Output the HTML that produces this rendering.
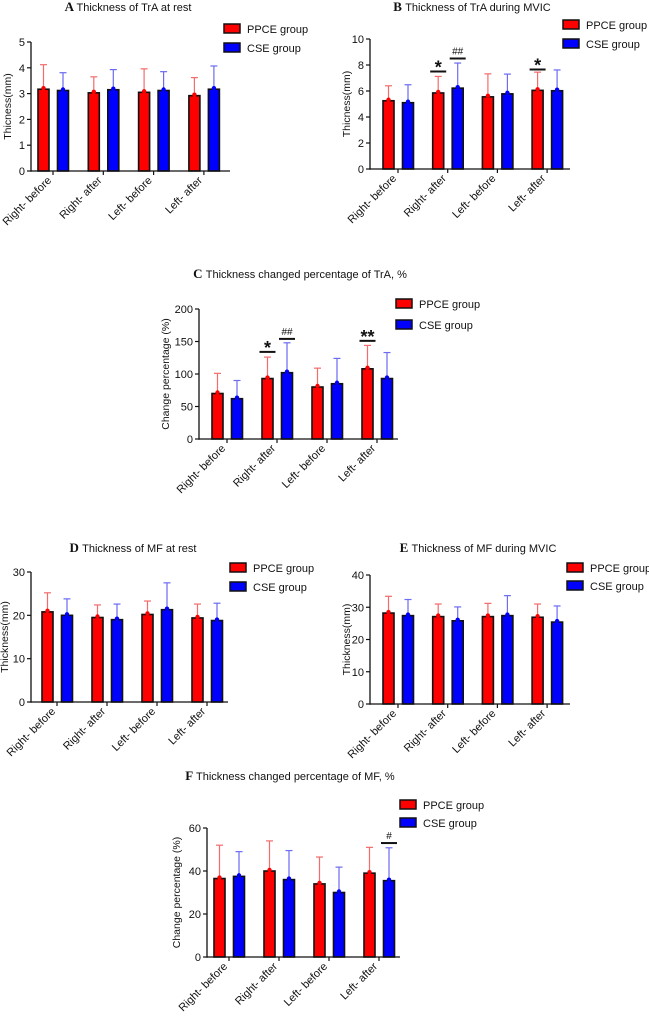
<!DOCTYPE html>
<html><head><meta charset="utf-8"><style>
body{margin:0;background:#fff;}
svg{display:block;font-family:"Liberation Sans",sans-serif;}
</style></head><body>
<svg id="fig" width="649" height="1017" viewBox="0 0 649 1017"></svg>
<script>
const categories=["Right- before","Right- after","Left- before","Left- after"];
const aRed=[3.17,3.03,3.05,2.92], aRedErr=[4.12,3.65,3.96,3.62], aBlue=[3.12,3.15,3.12,3.17], aBlueErr=[3.81,3.93,3.85,4.07];
const aTicks=[0,1,2,3,4,5];
const bRed=[5.25,5.85,5.55,6.05], bRedErr=[6.4,7.12,7.32,7.45], bBlue=[5.1,6.22,5.78,6.02], bBlueErr=[6.48,8.15,7.3,7.62];
const bTicks=[0,2,4,6,8,10];
const cRed=[70,93,80,108], cRedErr=[101,126,109,144], cBlue=[62,102,85,93], cBlueErr=[90,148,124,133];
const cTicks=[0,50,100,150,200];
const dRed=[20.8,19.5,20.2,19.4], dRedErr=[25.2,22.4,23.3,22.6], dBlue=[20,19,21.3,18.8], dBlueErr=[23.8,22.6,27.5,22.8];
const dTicks=[0,10,20,30];
const eRed=[28.2,27.1,27.1,26.9], eRedErr=[33.4,31,31.2,31], eBlue=[27.4,25.8,27.4,25.4], eBlueErr=[32.4,30.1,33.6,30.4];
const eTicks=[0,10,20,30,40];
const fRed=[36.5,40,34,39], fRedErr=[52,54,46.5,51], fBlue=[37.5,36,30,35.5], fBlueErr=[49,49.5,41.8,50.8];
const fTicks=[0,20,40,60];
const bSig=[[1,'r',7.5,'*'],[1,'b',8.5,'##'],[3,'r',7.65,'*']];
const cSig=[[1,'r',134,'*'],[1,'b',154,'##'],[3,'r',151,'**']];
const fSig=[[3,'b',53,'#']];

const NS="http://www.w3.org/2000/svg";
const svg=document.getElementById('fig');
function mk(tag,attrs,parent,text){const e=document.createElementNS(NS,tag);for(const k in attrs)e.setAttribute(k,attrs[k]);if(text!==undefined)e.textContent=text;(parent||svg).appendChild(e);return e;}

function panel(p){
  const g=mk('g',{});
  
  
  const yMax=p.ticks[p.ticks.length-1];
  const ys=v=>p.y0-(v/yMax)*(p.y0-p.yTop);
  const xs=i=>p.x0tick+i*p.step;
  const t=mk('text',{x:p.tx,y:p.ty,'font-size':11,'text-anchor':'middle',fill:'#111'},g);
  
  mk('tspan',{'font-family':'Liberation Serif, serif','font-weight':'bold','font-size':13},t,p.letter+' ');
  mk('tspan',{},t,p.title);
  const series=[[p.red,p.redErr,'#ff0000','#f36b6b',-9.5,'r'],[p.blue,p.blueErr,'#0000ff','#6b6bf3',10,'b']];
  series.forEach(([vals,errs,col,ecol,off,key])=>{
    vals.forEach((v,i)=>{
      const cx=xs(i)+off;
      const el=mk('line',{x1:cx,x2:cx,y1:ys(v),y2:ys(errs[i]),stroke:ecol,'stroke-width':1.2},g);
      
      const cap=mk('line',{x1:cx-3.5,x2:cx+3.5,y1:ys(errs[i]),y2:ys(errs[i]),stroke:ecol,'stroke-width':1.2},g);
      
      const r=mk('rect',{x:cx-5.5,y:ys(v),width:11,height:p.y0-ys(v),fill:col,stroke:'#111','stroke-width':1.6},g);
      
      const d=mk('circle',{cx:cx,cy:ys(v)-1,r:2.2,fill:col},g);
      
    });
  });
  const ya=mk('line',{x1:p.x0,x2:p.x0,y1:p.yTop,y2:p.y0+0.8,stroke:'#111','stroke-width':1.3},g);
  
  const xa=mk('line',{x1:p.x0,x2:p.xEnd,y1:p.y0,y2:p.y0,stroke:'#111','stroke-width':1.3},g);
  
  p.ticks.forEach(v=>{
    mk('line',{x1:p.x0-4,x2:p.x0,y1:ys(v),y2:ys(v),stroke:'#111','stroke-width':1.2},g);
    const tl=mk('text',{x:p.x0-6,y:ys(v)+4,'font-size':11,'text-anchor':'end',fill:'#111'},g,v);
    
  });
  categories.forEach((c,i)=>{
    mk('line',{x1:xs(i),x2:xs(i),y1:p.y0,y2:p.y0+4,stroke:'#111','stroke-width':1.2},g);
    const x=xs(i)-1,y=p.y0+10;
    const tl=mk('text',{x:x,y:y,'font-size':11,'text-anchor':'end',fill:'#111',transform:`rotate(-45 ${x} ${y})`},g,c);
    
  });
  const yt=mk('text',{x:0,y:0,'font-size':10.5,'text-anchor':'middle',fill:'#111',transform:`translate(${p.ytx} ${(p.y0+p.yTop)/2}) rotate(-90)`},g,p.ytitle);
  
  [['PPCE group','#ff0000',p.ly1],['CSE group','#0000ff',p.ly2]].forEach(([n,col,ly])=>{
    const r=mk('rect',{x:p.lx,y:ly,width:16,height:9,fill:col,stroke:'#111','stroke-width':1.5},g);
    
    const lt=mk('text',{x:p.lx+23,y:ly+9,'font-size':11,fill:'#111'},g,n);
    
  });
  (p.sig||[]).forEach(([i,k,v,lab])=>{
    const cx=xs(i)+(k==='r'?-9.5:10);
    const sl=mk('line',{x1:cx-8,x2:cx+8,y1:ys(v),y2:ys(v),stroke:'#111','stroke-width':2},g);
    
    const big=lab.indexOf('*')>=0;
    const st=mk('text',{x:cx,y:ys(v)-(big?-2:4),'font-size':big?18:10,'font-weight':big?'bold':'normal','text-anchor':'middle',fill:'#111'},g,lab);
    
  });
}
panel({name:'panel-a',letter:'A',title:'Thickness of TrA at rest',tx:128,ty:11,x0:31,yTop:42,y0:171,xEnd:230,x0tick:53,step:50.3,ticks:aTicks,red:aRed,redErr:aRedErr,blue:aBlue,blueErr:aBlueErr,ytitle:'Thicness(mm)',ytx:11,lx:224,ly1:24,ly2:43});
panel({name:'panel-b',letter:'B',title:'Thickness of TrA during MVIC',tx:472,ty:11,x0:370,yTop:39,y0:169,xEnd:570,x0tick:398,step:49.7,ticks:bTicks,red:bRed,redErr:bRedErr,blue:bBlue,blueErr:bBlueErr,ytitle:'Thicness(mm)',ytx:350,lx:563,ly1:20,ly2:39,sig:bSig});
panel({name:'panel-c',letter:'C',title:'Thickness changed percentage of TrA, %',tx:300,ty:278,x0:199,yTop:309,y0:439,xEnd:398,x0tick:227,step:50,ticks:cTicks,red:cRed,redErr:cRedErr,blue:cBlue,blueErr:cBlueErr,ytitle:'Change percentage (%)',ytx:169,lx:396,ly1:299,ly2:320,sig:cSig});
panel({name:'panel-d',letter:'D',title:'Thickness of MF at rest',tx:133,ty:552,x0:31,yTop:572,y0:702,xEnd:228,x0tick:57,step:50,ticks:dTicks,red:dRed,redErr:dRedErr,blue:dBlue,blueErr:dBlueErr,ytitle:'Thickness(mm)',ytx:8,lx:230,ly1:563,ly2:582});
panel({name:'panel-e',letter:'E',title:'Thickness of MF during MVIC',tx:478,ty:552,x0:370,yTop:575,y0:704,xEnd:570,x0tick:398,step:49.7,ticks:eTicks,red:eRed,redErr:eRedErr,blue:eBlue,blueErr:eBlueErr,ytitle:'Thickness(mm)',ytx:350,lx:567,ly1:563,ly2:581});
panel({name:'panel-f',letter:'F',title:'Thickness changed percentage of MF, %',tx:290,ty:780,x0:207,yTop:828,y0:957,xEnd:400,x0tick:229,step:50,ticks:fTicks,red:fRed,redErr:fRedErr,blue:fBlue,blueErr:fBlueErr,ytitle:'Change percentage (%)',ytx:180,lx:400,ly1:800,ly2:818,sig:fSig});
</script>
</body></html>
